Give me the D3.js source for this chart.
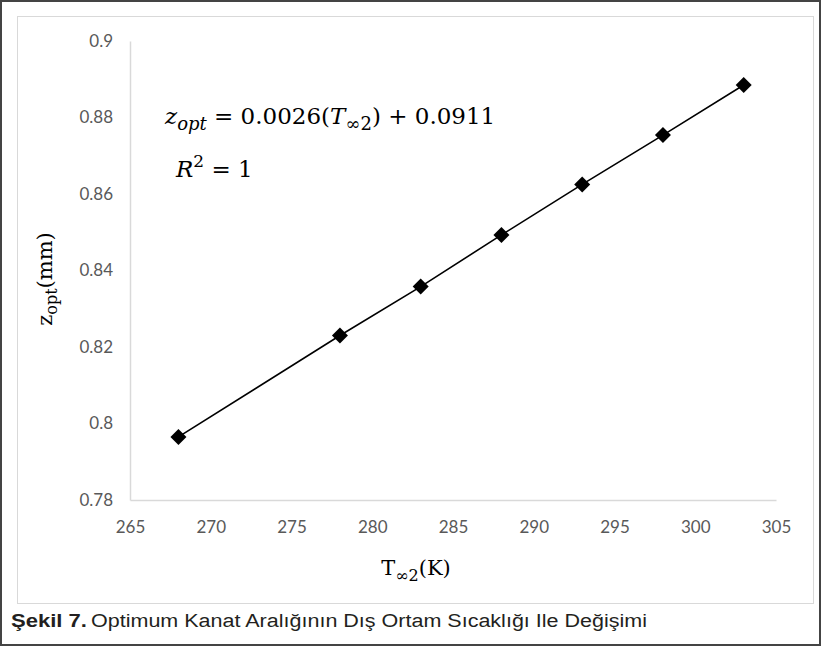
<!DOCTYPE html>
<html>
<head>
<meta charset="utf-8">
<script src="https://cdn.jsdelivr.net/npm/d3@7"></script>
<style>
  html, body { margin: 0; padding: 0; background: #fff; }
  svg { display: block; }
</style>
</head>
<body>
<svg id="chart" width="822" height="647"></svg>
<script>
// Ambient temperature T∞2 (K) and the optimum fin spacing z_opt (mm)
const temperatures = [268, 278, 283, 288, 293, 298, 303];
const zOpt = [0.7965, 0.8230, 0.8358, 0.8493, 0.8625, 0.8754, 0.8885];
const xTicks = [265, 270, 275, 280, 285, 290, 295, 300, 305];
const yTicks = [0.78, 0.80, 0.82, 0.84, 0.86, 0.88, 0.90];
const yTickLabels = ["0.78", "0.8", "0.82", "0.84", "0.86", "0.88", "0.9"];
const captionBold = "Şekil 7.";
const captionText = "Optimum Kanat Aralığının Dış Ortam Sıcaklığı Ile Değişimi";

const svg = d3.select("#chart");

// outer frame and inner chart frame
svg.append("rect").attr("x", 1).attr("y", 1).attr("width", 819).attr("height", 644)
  .attr("fill", "#fff").attr("stroke", "#444").attr("stroke-width", 2);
svg.append("rect").attr("x", 17.5).attr("y", 16.5).attr("width", 796).attr("height", 587)
  .attr("fill", "#fff").attr("stroke", "#d9d9d9").attr("stroke-width", 1);

const plot = { left: 130, right: 776, top: 41, bottom: 500 };
const x = d3.scaleLinear().domain([265, 305]).range([plot.left, plot.right]);
const y = d3.scaleLinear().domain([0.78, 0.90]).range([plot.bottom, plot.top]);

const tickFont = "Lato, 'Open Sans', sans-serif";

// axes
const xAxis = svg.append("g").attr("transform", `translate(0,${plot.bottom})`)
  .call(d3.axisBottom(x).tickValues(xTicks).tickSize(0).tickPadding(21).tickFormat(d3.format("d")));
const yAxis = svg.append("g").attr("transform", `translate(${plot.left},0)`)
  .call(d3.axisLeft(y).tickValues(yTicks).tickSize(0).tickPadding(17)
    .tickFormat((d, i) => yTickLabels[i]));
[xAxis, yAxis].forEach(g => {
  g.select(".domain").attr("stroke", "#d9d9d9").attr("stroke-width", 1.5);
  g.selectAll("text").attr("fill", "#595959").style("font-family", tickFont).style("font-size", "17px");
});

// data line and diamond markers
const line = d3.line().x((d, i) => x(temperatures[i])).y(d => y(d));
svg.append("path").datum(zOpt).attr("d", line)
  .attr("fill", "none").attr("stroke", "#000").attr("stroke-width", 1.6);
svg.append("g").selectAll("path").data(zOpt).join("path")
  .attr("transform", (d, i) => `translate(${x(temperatures[i])},${y(d)})`)
  .attr("d", "M0,-8L8,0L0,8L-8,0Z").attr("fill", "#000");

const serif = "'DejaVu Serif', 'Liberation Serif', serif";

// fitted equation
const eq = svg.append("text").attr("x", 165).attr("y", 124)
  .style("font-family", serif).style("font-size", "23px").attr("fill", "#000");
eq.append("tspan").style("font-style", "italic").text("z");
eq.append("tspan").style("font-style", "italic").style("font-size", "18px").attr("dy", 6).text("opt");
eq.append("tspan").attr("dy", -6).text(" = 0.0026(");
eq.append("tspan").style("font-style", "italic").text("T");
eq.append("tspan").style("font-size", "18px").attr("dy", 6).text("∞2");
eq.append("tspan").attr("dy", -6).text(") + 0.0911");

const r2 = svg.append("text").attr("x", 176).attr("y", 177)
  .style("font-family", serif).style("font-size", "23px").attr("fill", "#000");
r2.append("tspan").style("font-style", "italic").text("R");
r2.append("tspan").style("font-size", "17px").attr("dy", -10).text("2");
r2.append("tspan").attr("dy", 10).text(" = 1");

// axis titles
const yt = svg.append("text").attr("transform", "translate(52,279) rotate(-90)")
  .attr("text-anchor", "middle").style("font-family", serif).style("font-size", "21px").attr("fill", "#000");
yt.append("tspan").text("z");
yt.append("tspan").style("font-size", "16px").attr("dy", 5).text("opt");
yt.append("tspan").attr("dy", -5).text("(mm)");

const xt = svg.append("text").attr("x", 416).attr("y", 575)
  .attr("text-anchor", "middle").style("font-family", serif).style("font-size", "21px").attr("fill", "#000");
xt.append("tspan").text("T");
xt.append("tspan").style("font-size", "16px").attr("dy", 6).text("∞2");
xt.append("tspan").attr("dy", -6).text("(K)");

// caption
const capFont = "'Liberation Sans Narrow', 'Arial Narrow', 'Liberation Sans', sans-serif";
svg.append("text").attr("x", 11).attr("y", 627)
  .style("font-family", capFont).style("font-size", "18px").style("font-weight", "bold")
  .attr("fill", "#231f20").attr("textLength", 76).attr("lengthAdjust", "spacingAndGlyphs")
  .text(captionBold);
svg.append("text").attr("x", 91).attr("y", 627)
  .style("font-family", capFont).style("font-size", "18px")
  .attr("fill", "#231f20").attr("textLength", 556).attr("lengthAdjust", "spacingAndGlyphs")
  .text(captionText);
</script>
</body>
</html>
